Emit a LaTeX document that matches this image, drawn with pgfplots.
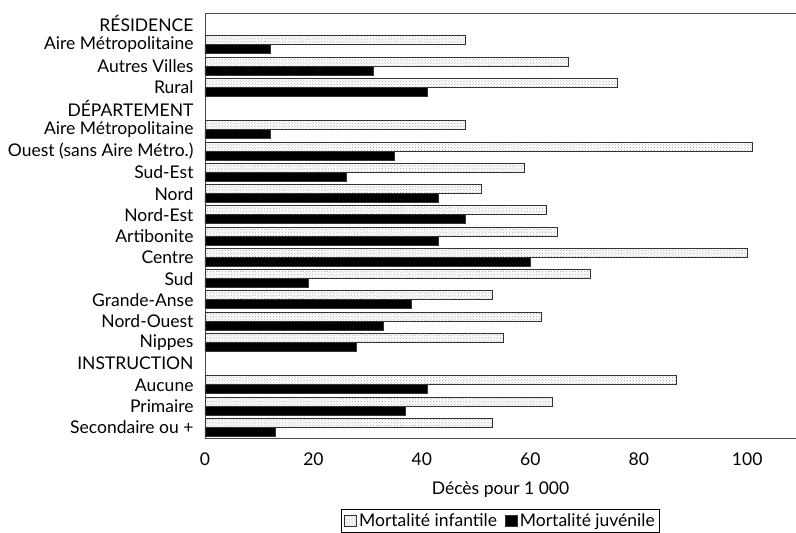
\documentclass[border=0pt]{standalone}
\usepackage{pgfplots}
\pgfplotsset{compat=1.18}
\usepackage{fontspec}
\setmainfont{Lato}
\usetikzlibrary{patterns}

\begin{document}
\begin{tikzpicture}
\begin{axis}[
  name=ax,
  scale only axis,
  width=591bp, height=425bp,
  xmin=0, xmax=109,
  ymin=-0.5, ymax=19.5,
  y dir=reverse,
  xbar, bar width=9bp,
  axis x line*=bottom, axis y line*=left,
  axis line style={black!70, line width=0.9bp, -},
  xtick={0,20,...,100},
  ytick={0,...,19},
  major tick length=0pt,
  tick style={draw=none},
  font=\fontsize{17.5bp}{20bp}\selectfont,
  /pgf/number format/assume math mode=true,
  xticklabel style={yshift=-11bp},
  yticklabel style={xshift=-8bp},
  yticklabels={{RÉSIDENCE},{Aire Métropolitaine},{Autres Villes},{Rural},{DÉPARTEMENT},{Aire Métropolitaine},{Ouest (sans Aire Métro.)},{Sud-Est},{Nord},{Nord-Est},{Artibonite},{Centre},{Sud},{Grande-Anse},{Nord-Ouest},{Nippes},{INSTRUCTION},{Aucune},{Primaire},{Secondaire ou +}},
  xlabel={Décès pour 1 000},
  xlabel style={at={(axis description cs:0.5,0)}, anchor=center, yshift=-52bp},
  legend style={at={(axis description cs:0.5,0)}, anchor=north, yshift=-71bp,
    draw=black, line width=0.6bp, legend columns=2, inner sep=2.5bp,
    /tikz/every even column/.append style={column sep=6bp}},
  legend cell align=left,
  legend image code/.code={\draw[#1] (0bp,-5bp) rectangle (12bp,6bp);},
]
\addplot[draw=black!80, line width=0.9bp, fill=white,
  postaction={pattern=crosshatch dots, pattern color=gray!70},
  bar shift=4.5bp] coordinates {
  (48,1) (67,2) (76,3) (48,5) (101,6) (59,7) (51,8) (63,9) (65,10)
  (100,11) (71,12) (53,13) (62,14) (55,15) (87,17) (64,18) (53,19)};
\addplot[draw=black!80, line width=0.9bp, fill=black, bar shift=-4.5bp] coordinates {
  (12,1) (31,2) (41,3) (12,5) (35,6) (26,7) (43,8) (48,9) (43,10)
  (60,11) (19,12) (38,13) (33,14) (28,15) (41,17) (37,18) (13,19)};
\legend{Mortalité infantile, Mortalité juvénile}
\end{axis}
\draw[black!70, line width=0.9bp] (ax.north west) -- (ax.north east);
\pgfresetboundingbox
\path ([shift={(-205bp,-95bp)}]ax.south west) rectangle ([shift={(0bp,13bp)}]ax.north east);
\end{tikzpicture}
\end{document}
